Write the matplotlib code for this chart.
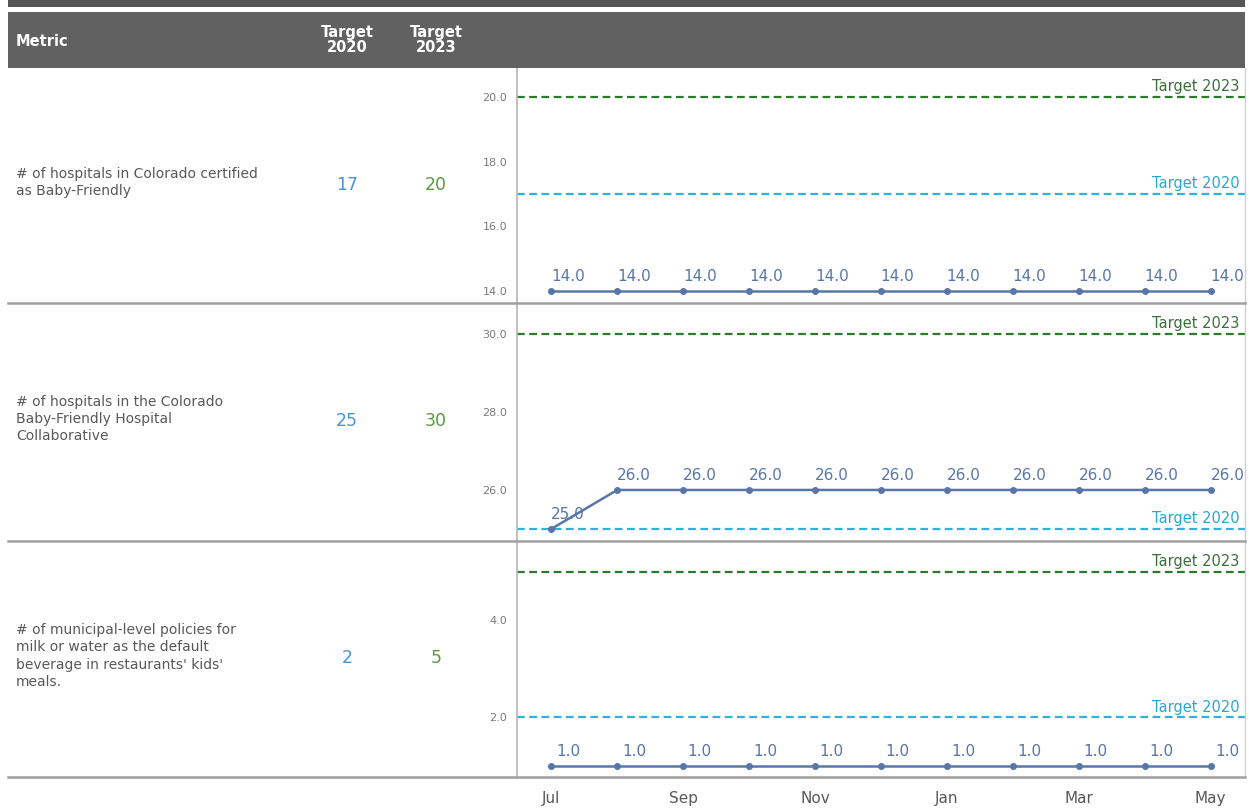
import matplotlib
matplotlib.use("Agg")
import matplotlib.pyplot as plt
from matplotlib.patches import Rectangle
from matplotlib.lines import Line2D

# ─── DATA ────────────────────────────────────────────────────────────────────
months = ["Jul", "Aug", "Sep", "Oct", "Nov", "Dec", "Jan", "Feb", "Mar", "Apr", "May"]

metrics = [
    "# of hospitals in Colorado certified\nas Baby-Friendly",
    "# of hospitals in the Colorado\nBaby-Friendly Hospital\nCollaborative",
    "# of municipal-level policies for\nmilk or water as the default\nbeverage in restaurants' kids'\nmeals.",
]
target_2020 = [17, 25, 2]
target_2023 = [20, 30, 5]

certified = [14.0, 14.0, 14.0, 14.0, 14.0, 14.0, 14.0, 14.0, 14.0, 14.0, 14.0]
collaborative = [25.0, 26.0, 26.0, 26.0, 26.0, 26.0, 26.0, 26.0, 26.0, 26.0, 26.0]
policies = [1.0, 1.0, 1.0, 1.0, 1.0, 1.0, 1.0, 1.0, 1.0, 1.0, 1.0]
series = [certified, collaborative, policies]

yticks = [[14, 16, 18, 20], [26, 28, 30], [2, 4]]
ylims = [(13.63, 20.9), (24.69, 30.8), (0.77, 5.64)]

# ─── STYLE ───────────────────────────────────────────────────────────────────
W, H = 1249, 809
LINE_C = "#5876a8"
GREEN = "#2d7a2d"
GREEN_TXT = "#3c6e3c"
CYAN = "#2bb3d9"
CYAN_TXT = "#2aa6cf"
BLUE_VAL = "#4a93dc"
GREEN_VAL = "#5a9a3c"
TEXT_C = "#595959"
SEP_C = "#a0a0a0"

plt.rcParams["font.family"] = ["DejaVu Sans"]


def fx(px):
    return px / W


def fy(py):
    return 1 - py / H


fig = plt.figure(figsize=(W / 100, H / 100), dpi=100)
fig.patch.set_facecolor("white")

# top bar + header band
fig.add_artist(Rectangle((fx(8), fy(7)), fx(1245) - fx(8), fy(0) - fy(7),
                         transform=fig.transFigure, color="#555555", lw=0))
fig.add_artist(Rectangle((fx(8), fy(68)), fx(1245) - fx(8), fy(12) - fy(68),
                         transform=fig.transFigure, color="#616161", lw=0))
fig.text(fx(16), fy(41), "Metric", color="white", fontsize=10.5, weight="bold", va="center")
fig.text(fx(347), fy(40), "Target\n2020", color="white", fontsize=10.5, weight="bold",
         va="center", ha="center", linespacing=0.95)
fig.text(fx(436), fy(40), "Target\n2023", color="white", fontsize=10.5, weight="bold",
         va="center", ha="center", linespacing=0.95)

rows = [(68, 303), (303, 541), (541, 777)]

for i, (top, bot) in enumerate(rows):
    mid = (top + bot) / 2
    fig.text(fx(16), fy(mid - 3), metrics[i], color=TEXT_C, fontsize=10, va="center",
             linespacing=1.3)
    fig.text(fx(347), fy(mid - 1), str(target_2020[i]), color=BLUE_VAL, fontsize=12.5,
             va="center", ha="center")
    fig.text(fx(436), fy(mid - 1), str(target_2023[i]), color=GREEN_VAL, fontsize=12.5,
             va="center", ha="center")

    ax = fig.add_axes([fx(517), fy(bot), fx(1245) - fx(517), fy(top) - fy(bot)])
    x = list(range(len(months)))
    vals = series[i]
    ax.plot(x, vals, color=LINE_C, lw=1.8, marker="o", ms=4, zorder=3)
    for xi, v in zip(x, vals):
        ax.annotate(f"{v:.1f}", (xi, v), xytext=(12, 5), textcoords="offset points",
                    ha="center", va="bottom", fontsize=11, color=LINE_C, zorder=4)

    ax.axhline(target_2023[i], color=GREEN, ls=(0, (3.5, 2)), lw=1.6, zorder=2)
    ax.axhline(target_2020[i], color=CYAN, ls=(0, (3.5, 2)), lw=1.6, zorder=2)
    ax.annotate("Target 2023", (1, target_2023[i]), xycoords=("axes fraction", "data"),
                xytext=(-4, 2), textcoords="offset points", ha="right", va="bottom",
                fontsize=10.5, color=GREEN_TXT)
    ax.annotate("Target 2020", (1, target_2020[i]), xycoords=("axes fraction", "data"),
                xytext=(-4, 2), textcoords="offset points", ha="right", va="bottom",
                fontsize=10.5, color=CYAN_TXT)

    ax.set_xlim(-0.52, 10.52)
    ax.set_ylim(*ylims[i])
    ax.set_yticks(yticks[i])
    ax.set_yticklabels([f"{t:.1f}" for t in yticks[i]])
    ax.tick_params(axis="y", length=0, labelsize=8, labelcolor="#7a7a7a", pad=7)
    for s in ["top", "bottom"]:
        ax.spines[s].set_visible(False)
    ax.spines["left"].set_color("#b5b5b5")
    ax.spines["left"].set_linewidth(1.2)
    ax.spines["right"].set_color("#d0d0d0")
    ax.spines["right"].set_linewidth(1.0)
    ax.set_facecolor("none")

    if i < 2:
        ax.set_xticks([])
    else:
        ax.set_xticks(x[::2])
        ax.set_xticklabels(months[::2])
        ax.tick_params(axis="x", length=0, labelsize=11, labelcolor=TEXT_C, pad=10)

    # row separator
    fig.add_artist(Line2D([fx(8), fx(1245)], [fy(bot), fy(bot)], transform=fig.transFigure,
                          color=SEP_C, lw=1.8))

fig.savefig("out.png", dpi=100)
